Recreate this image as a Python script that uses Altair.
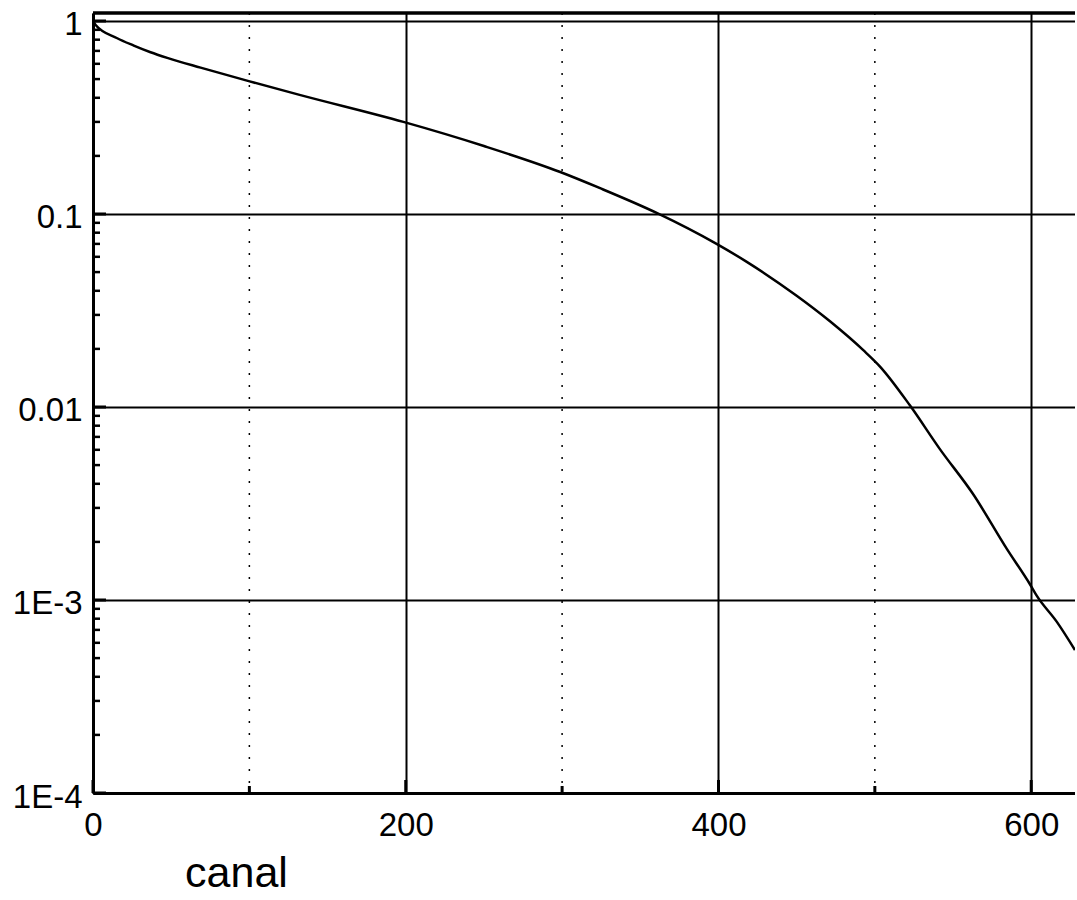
import altair as alt
import pandas as pd

# Curve (canal, normalised value)
canal = [0, 1.7, 15.5, 26.1, 36.8, 47.5, 68.8, 99.6, 132.7, 198.5, 250, 298.8, 324.3,
         360.8, 398.5, 418.1, 450.0, 471.3, 492.6, 503.3, 522.4, 541.6, 562.7,
         584.4, 599.1, 603.6, 616.4, 628]
value = [1.0, 0.953, 0.814, 0.746, 0.689, 0.644, 0.573, 0.488, 0.413, 0.300, 0.225, 0.165,
         0.136, 0.101, 0.0702, 0.0565, 0.0377, 0.0278, 0.0197, 0.0162, 0.0102,
         0.00605, 0.00355, 0.00184, 0.00121, 0.00105, 0.00077, 0.00055]

x_major = [0, 200, 400, 600]
x_minor = [100, 300, 500]
y_decades = [1e-4, 1e-3, 1e-2, 1e-1, 1]
y_minor = [k * d for d in [1e-4, 1e-3, 1e-2, 1e-1] for k in range(2, 10)]

W, H = 982, 780
FONT = "Liberation Sans"

xscale = alt.Scale(domain=[0, 628], nice=False, zero=False)
yscale = alt.Scale(type="log", domain=[1e-4, 1.1], nice=False)

curve_df = pd.DataFrame({"canal": canal, "value": value})

line = alt.Chart(curve_df).mark_line(color="black", strokeWidth=2.5, clip=True,
                                     interpolate="monotone").encode(
    x=alt.X("canal:Q", scale=xscale,
            axis=alt.Axis(values=x_major, grid=True, gridColor="black", gridWidth=2,
                          gridOpacity=1, domainColor="black", domainWidth=3,
                          ticks=False, labelFontSize=33, labelFont=FONT,
                          labelColor="black", labelPadding=16, labelFlush=False,
                          labelOverlap=False,
                          title="canal", titleFont=FONT, titleFontSize=43,
                          titleFontWeight="normal", titleColor="black",
                          titleX=143, titleY=93, titleAlign="center",
                          titleBaseline="alphabetic")),
    y=alt.Y("value:Q", scale=yscale,
            axis=alt.Axis(values=y_decades, grid=True, gridColor="black", gridWidth=2,
                          gridOpacity=1, domainColor="black", domainWidth=3,
                          ticks=False, labelFontSize=33, labelFont=FONT,
                          labelColor="black", labelPadding=11, labelOffset=4,
                          labelOverlap=False, labelFlush=False,
                          labelExpr="datum.value >= 0.005 ? toString(datum.value) : '1E' + round(log(datum.value)/LN10)",
                          title=None)),
)

dotted = alt.Chart(pd.DataFrame({"v": x_minor})).mark_rule(
    color="black", strokeWidth=1.5, strokeDash=[2, 10]).encode(
    x=alt.X("v:Q", scale=xscale))

xticks_minor = alt.Chart(pd.DataFrame({"v": x_minor})).mark_rule(
    color="black", strokeWidth=3).encode(
    x=alt.X("v:Q", scale=xscale), y=alt.value(H), y2=alt.value(H - 7))

xticks_major = alt.Chart(pd.DataFrame({"v": x_major})).mark_rule(
    color="black", strokeWidth=3).encode(
    x=alt.X("v:Q", scale=xscale), y=alt.value(H), y2=alt.value(H - 13))

yticks_minor = alt.Chart(pd.DataFrame({"v": y_minor})).mark_rule(
    color="black", strokeWidth=2.5).encode(
    y=alt.Y("v:Q", scale=yscale), x=alt.value(0), x2=alt.value(7))

yticks_major = alt.Chart(pd.DataFrame({"v": y_decades})).mark_rule(
    color="black", strokeWidth=3).encode(
    y=alt.Y("v:Q", scale=yscale), x=alt.value(0), x2=alt.value(13))

top = alt.Chart(pd.DataFrame({"v": [0]})).mark_rule(color="black", strokeWidth=3.5).encode(
    x=alt.value(0), x2=alt.value(W), y=alt.value(0))

chart = alt.layer(line, dotted, xticks_minor, xticks_major, yticks_minor, yticks_major, top).properties(
    width=W, height=H,
    padding={"left": 93, "top": 13, "right": 0, "bottom": 104},
    autosize=alt.AutoSizeParams(type="none"),
    background="white",
).configure_view(stroke=None)

chart.save("out.html", embed_options={"renderer": "svg", "actions": False})
